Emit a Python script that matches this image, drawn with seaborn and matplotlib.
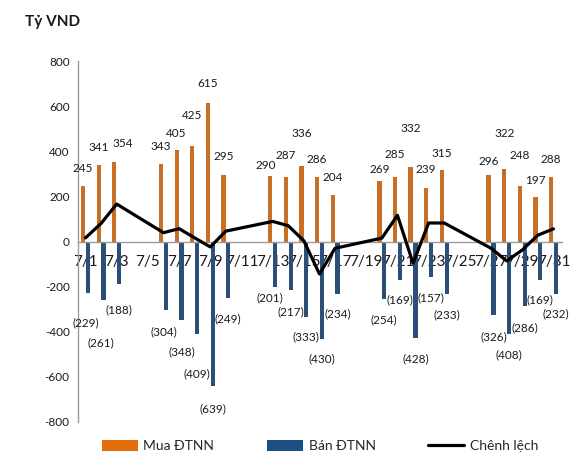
import numpy as np
import pandas as pd
import matplotlib
matplotlib.use("Agg")
import matplotlib.pyplot as plt
from matplotlib.patches import Patch
from matplotlib.lines import Line2D
import seaborn as sns

# Foreign investor trading in July (billion VND), trading days only
days = [1, 2, 3, 6, 7, 8, 9, 10, 13, 14, 15, 16, 17,
        20, 21, 22, 23, 24, 27, 28, 29, 30, 31]
buy = [245, 341, 354, 343, 405, 425, 615, 295, 290, 287, 336, 286, 204,
       269, 285, 332, 239, 315, 296, 322, 248, 197, 288]
sell = [229, 261, 188, 304, 348, 409, 639, 249, 201, 217, 333, 430, 234,
        254, 169, 428, 157, 233, 326, 408, 286, 169, 232]
net = [16, 80, 166, 39, 57, 16, -24, 46, 89, 70, 3, -144, -30,
       15, 116, -96, 82, 82, -30, -86, -38, 28, 56]
tick_days = list(range(1, 32, 2))
tick_labels = [f"7/{d}" for d in tick_days]
series_names = ["Mua ĐTNN", "Bán ĐTNN", "Chênh lệch"]

# label placement (pixels) to keep neighbouring labels apart
buy_lift = [18, 17, 18, 18, 17, 30, 19, 18, 11, 21, 32, 17, 18,
            11, 23, 38, 18, 17, 13, 35, 30, 17, 17]
buy_shift = [0, 0, 8, 0, 0, 0, 0, 0, -4, 0, 0, 0, 0,
             0, 0, 0, 0, 0, 0, 0, 0, 0, 0]
sell_drop = [30, 42, 26, 22, 32, 40, 23, 21, 11, 21, 20, 20, 20,
             21, 20, 21, 21, 21, 22, 21, 22, 20, 20]
sell_shift = [-2, -3, 0, -2, 0, 0, 0, 0, -5, 0, 0, 0, 0,
              0, 0, 0, 0, 0, 0, 0, 0, 0, 0]

ORANGE = "#E46C0A"
BLUE = "#1F4E84"
GRAY = "#9A9A9A"

sns.set_theme(style="white")
plt.rcParams["font.family"] = ["Lato", "DejaVu Sans"]

df = pd.DataFrame({
    "day": days * 2,
    "value": buy + [-v for v in sell],
    "series": [series_names[0]] * len(days) + [series_names[1]] * len(days),
})

fig = plt.figure(figsize=(5.84, 4.57), dpi=100)
ax = fig.add_axes([78 / 584, 35 / 457, (562 - 78) / 584, (422 - 61) / 457])

sns.barplot(data=df, x="day", y="value", hue="series", native_scale=True,
            dodge=True, width=0.62, gap=0.12, errorbar=None,
            palette=[ORANGE, BLUE], linewidth=0, legend=False, ax=ax, zorder=2)
sns.lineplot(x=days, y=net, color="black", linewidth=2.3, ax=ax, zorder=4)

px = 0.72  # points per pixel at 100 dpi
for d, b, s, up, bx, dn, sx in zip(days, buy, sell, buy_lift, buy_shift,
                                    sell_drop, sell_shift):
    ax.annotate(f"{b}", (d - 0.155, b), xytext=(bx * px, up * px),
                textcoords="offset points", ha="center", va="center",
                fontsize=8.5, color="#1A1A1A", zorder=5)
    ax.annotate(f"({s})", (d + 0.155, -s), xytext=(sx * px, -dn * px),
                textcoords="offset points", ha="center", va="center",
                fontsize=8.5, color="#1A1A1A", zorder=5)

ax.set_xlim(0.52, 31.55)
ax.set_ylim(-800, 800)
ax.set_yticks(np.arange(-800, 801, 200))
ax.set_yticklabels([str(v) for v in range(-800, 801, 200)], fontsize=8.5)
ax.set_xticks(tick_days)
ax.set_xticklabels(tick_labels, fontsize=8.3)
ax.set_xlabel("")
ax.set_ylabel("")

for side in ["top", "right"]:
    ax.spines[side].set_visible(False)
ax.spines["bottom"].set_position(("data", 0))
ax.spines["bottom"].set_color(GRAY)
ax.spines["left"].set_color(GRAY)
ax.spines["bottom"].set_linewidth(1.0)
ax.spines["left"].set_linewidth(1.0)
ax.tick_params(axis="x", length=0, pad=10, colors="#1A1A1A")
ax.tick_params(axis="y", length=0, pad=6, colors="#1A1A1A")
ax.grid(False)

fig.text(25 / 584, 1 - 22 / 457, "Tỷ VND", fontsize=11, fontweight="bold",
         ha="left", va="center", color="#1A1A1A")

handles = [Patch(facecolor=ORANGE, edgecolor="none"),
           Patch(facecolor=BLUE, edgecolor="none"),
           Line2D([], [], color="black", linewidth=2.3)]
fig.legend(handles, series_names, loc="center", ncol=3, frameon=False,
           bbox_to_anchor=(320 / 584, 1 - 446 / 457), fontsize=10,
           handlelength=2.6, handleheight=0.8, handletextpad=0.4,
           columnspacing=3.8)

fig.savefig("out.png", dpi=100)
